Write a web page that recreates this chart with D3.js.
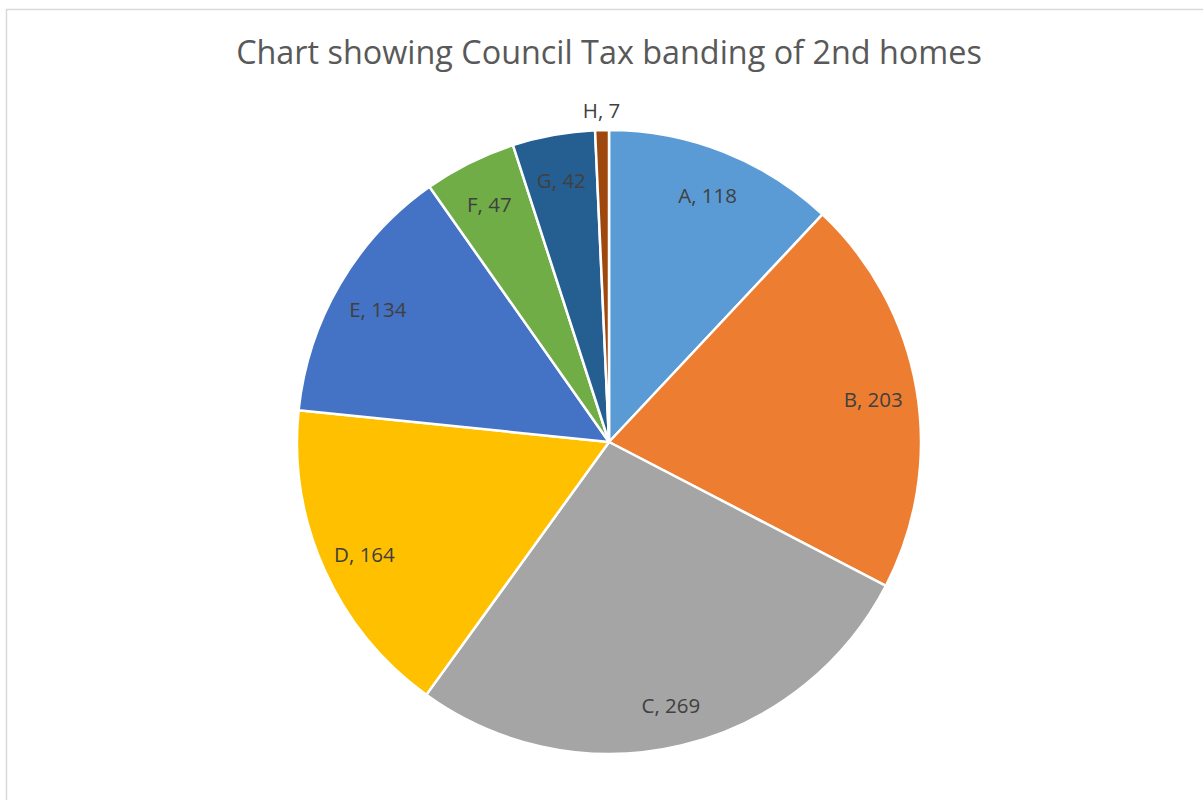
<!DOCTYPE html>
<html><head><meta charset="utf-8">
<script src="https://cdn.jsdelivr.net/npm/d3@7"></script>
<style>html,body{margin:0;padding:0;background:#fff;overflow:hidden}</style>
</head><body>
<svg id="c" width="1203" height="800"></svg>
<script>
const categories = ["A","B","C","D","E","F","G","H"];
const values = [118,203,269,164,134,47,42,7];
const colors = ["#5B9BD5","#ED7D31","#A5A5A5","#FFC000","#4472C4","#70AD47","#255E91","#9E480E"];
const title = "Chart showing Council Tax banding of 2nd homes";

const svg = d3.select("#c");
svg.append("rect").attr("x",6.5).attr("y",9.5).attr("width",1250).attr("height",900)
  .attr("fill","#fff").attr("stroke","#d9d9d9").attr("stroke-width",1.5);

const t = svg.append("text").attr("x",609).attr("y",64).attr("text-anchor","middle")
  .attr("font-family","'Open Sans', sans-serif").attr("font-size",32).attr("fill","#595959").text(title);
const w = t.node().getComputedTextLength();
t.attr("font-size", 32*746/w);

const cx=609, cy=442, R=312;
const data = categories.map((c,i)=>({cat:c,val:values[i],color:colors[i]}));
const pie = d3.pie().value(d=>d.val).sort(null);
const arcs = pie(data);
const arc = d3.arc().innerRadius(0).outerRadius(R);
const g = svg.append("g").attr("transform",`translate(${cx},${cy})`);
g.selectAll("path").data(arcs).join("path").attr("d",arc)
  .attr("fill",d=>d.data.color).attr("stroke","#fff").attr("stroke-width",2.5).attr("stroke-linejoin","round");

const labelArc = d3.arc().innerRadius(268).outerRadius(268);
const outArc = d3.arc().innerRadius(334).outerRadius(334);
g.selectAll("text.lbl").data(arcs).join("text").attr("class","lbl")
  .attr("transform",d=>{
    const small = (d.endAngle-d.startAngle) < 0.1;
    const [x,y] = (small?outArc:labelArc).centroid(d);
    return `translate(${x},${y+3})`;
  })
  .attr("text-anchor","middle").attr("dy","0.35em")
  .attr("font-family","'Open Sans', sans-serif").attr("font-size",20.5).attr("fill","#404040")
  .text(d=>`${d.data.cat}, ${d.data.val}`);
</script>
</body></html>
